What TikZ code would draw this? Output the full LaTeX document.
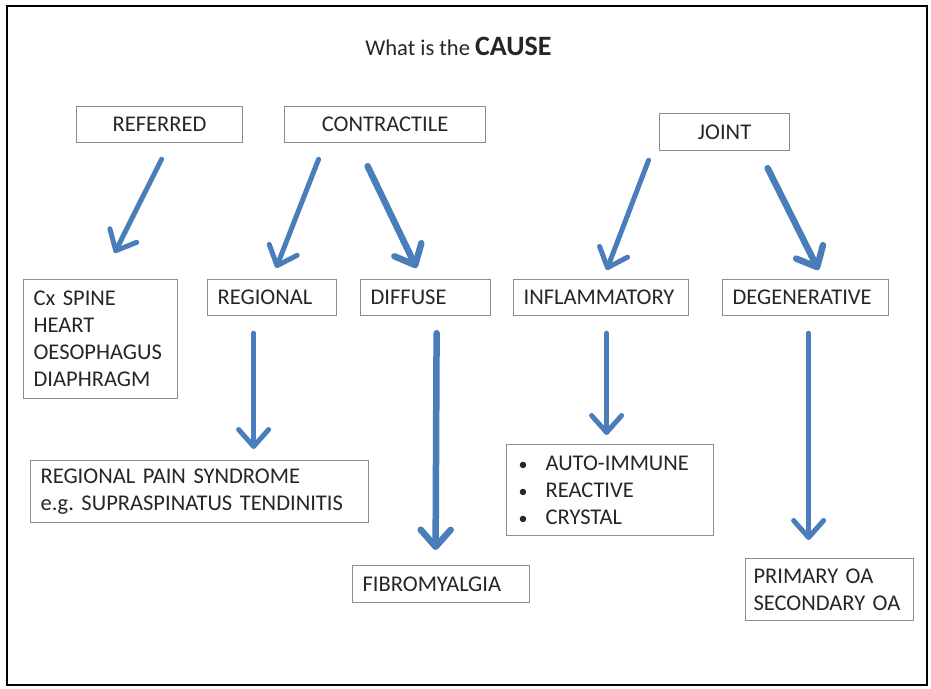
\documentclass[tikz,border=0pt]{standalone}
\usepackage{fontspec}
\setmainfont{Carlito}
\usetikzlibrary{arrows.meta}
\definecolor{arrblue}{RGB}{74,126,187}
\definecolor{boxgray}{RGB}{140,140,140}
\definecolor{txt}{RGB}{38,38,38}
\frenchspacing
\newcommand{\bulitem}{\hspace*{2pt}\makebox[27pt][l]{\fontsize{18}{18}\selectfont •}}
\tikzset{
  box/.style={draw=boxgray, line width=1.2pt, anchor=north west, inner xsep=10pt, inner ysep=0pt,
    text=txt, font=\fontsize{22.5}{27}\selectfont, align=left},
  arr/.style={draw=arrblue, line width=5pt, line cap=round,
    -{Straight Barb[length=17pt,width=30pt,round]}},
  arrthick/.style={arr, line width=6.5pt},
}
\begin{document}
\begin{tikzpicture}[x=1pt,y=-1pt]
\useasboundingbox (0,0) rectangle (931,688);
\draw[line width=2pt] (7,6) rectangle (927,685);

\node[anchor=base, text=txt, font=\fontsize{22.5}{27}\selectfont] (title) at (458.5,55)
  {What is the {\fontsize{28}{30}\selectfont\bfseries CAUSE}};

\node[box, align=center, minimum width=166pt, minimum height=36pt, text width=146pt] (ref) at (76,106) {REFERRED};
\node[box, align=center, minimum width=201pt, minimum height=36pt, text width=181pt] (con) at (284,106) {CONTRACTILE};
\node[box, align=center, minimum width=130pt, minimum height=37pt, text width=110pt] (joint) at (659,113) {JOINT};

\node[box, minimum width=154pt, minimum height=119pt, text width=134pt] (cx) at (23,279)
  {Cx SPINE\\HEART\\OESOPHAGUS\\DIAPHRAGM};
\node[box, minimum width=129pt, minimum height=36pt, text width=109pt] (reg) at (207,279) {REGIONAL};
\node[box, minimum width=130pt, minimum height=36pt, text width=110pt] (dif) at (360,279) {DIFFUSE};
\node[box, minimum width=175pt, minimum height=36pt, text width=155pt] (infl) at (513,279) {INFLAMMATORY};
\node[box, minimum width=166pt, minimum height=36pt, text width=146pt] (deg) at (722,279) {DEGENERATIVE};

\node[box, minimum width=338pt, minimum height=62pt, text width=318pt] (rps) at (30,460)
  {REGIONAL PAIN SYNDROME\\e.g. SUPRASPINATUS TENDINITIS};
\node[box, minimum width=207pt, minimum height=91pt, text width=187pt] (bul) at (506,444)
  {\bulitem AUTO-IMMUNE\\\bulitem REACTIVE\\\bulitem CRYSTAL};
\node[box, minimum width=177pt, minimum height=37pt, text width=157pt] (fib) at (352,565) {FIBROMYALGIA};
\node[box, inner xsep=8pt, minimum width=168pt, minimum height=62pt, text width=152pt] (pri) at (745,558)
  {PRIMARY OA\\SECONDARY OA};

\draw[arr] ([shift={(2pt,-16pt)}]ref.south) -- ([shift={(14pt,26pt)}]cx.north);
\draw[arr] ([shift={(-66.5pt,-16pt)}]con.south) -- ([shift={(4pt,11pt)}]reg.north);
\draw[arrthick] ([shift={(-17.5pt,-23pt)}]con.south) -- ([shift={(-9pt,11pt)}]dif.north);
\draw[arr] ([shift={(-76pt,-9pt)}]joint.south) -- ([shift={(5.5pt,9pt)}]infl.north);
\draw[arrthick] ([shift={(43pt,-17pt)}]joint.south) -- ([shift={(13pt,9pt)}]deg.north);
\draw[arr] ([shift={(-18.5pt,-17pt)}]reg.south) -- ([shift={(54pt,11pt)}]rps.north);
\draw[arrthick] ([shift={(11pt,-17pt)}]dif.south) -- ([shift={(-5.5pt,15pt)}]fib.north);
\draw[arr] ([shift={(5.5pt,-17pt)}]infl.south) -- ([shift={(-3.5pt,9pt)}]bul.north);
\draw[arr] ([shift={(3pt,-17pt)}]deg.south) -- ([shift={(-21pt,18pt)}]pri.north);
\end{tikzpicture}
\end{document}
